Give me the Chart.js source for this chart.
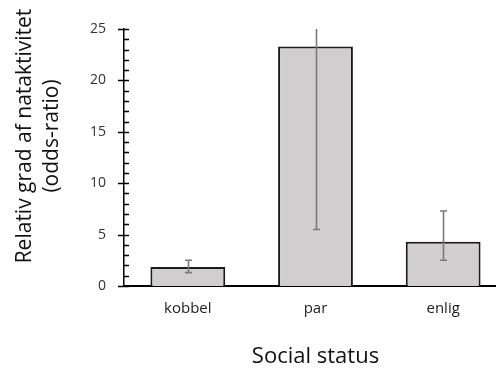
<!DOCTYPE html>
<html lang="da">
<head>
  <meta charset="UTF-8" />
  <title>Social status</title>
  <script src="https://cdn.jsdelivr.net/npm/chart.js"></script>
  <style>
    html, body { margin: 0; padding: 0; background: #fff; overflow: hidden; }
    #wrap { width: 508px; height: 369px; }
  </style>
</head>
<body>
  <div id="wrap"><canvas id="grafik" width="508" height="369"></canvas></div>

  <script>
    // Data
    const kategorier = ['kobbel', 'par', 'enlig'];
    const oddsRatio = [1.85, 23.3, 4.3];
    const nedre = [1.3, 5.5, 2.5];
    const oevre = [2.5, 25.0, 7.3];
    const yTicks = [0, 5, 10, 15, 20, 25];
    const yTitel = ['Relativ grad af nataktivitet', '(odds-ratio)'];

    // fejllinjer tegnet via skalaerne
    const fejlLinjer = {
      id: 'fejlLinjer',
      afterDatasetsDraw(chart) {
        const ctx = chart.ctx;
        const y = chart.scales.y;
        const meta = chart.getDatasetMeta(0);
        ctx.save();
        ctx.strokeStyle = '#7a7a7a';
        ctx.lineWidth = 1.6;
        meta.data.forEach((bar, i) => {
          const x = Math.round(bar.x) + 0.5;
          const yLo = y.getPixelForValue(nedre[i]);
          const yHi = y.getPixelForValue(oevre[i]);
          ctx.beginPath();
          ctx.moveTo(x, yLo);
          ctx.lineTo(x, yHi);
          ctx.moveTo(x - 3.5, yLo);
          ctx.lineTo(x + 3.5, yLo);
          if (oevre[i] < y.max) {
            ctx.moveTo(x - 3.5, yHi);
            ctx.lineTo(x + 3.5, yHi);
          }
          ctx.stroke();
        });
        ctx.restore();
      }
    };

    // flueben på y-aksen (store krydser aksen, små kun indad) + y-titel
    const aksemaerker = {
      id: 'aksemaerker',
      afterDraw(chart) {
        const ctx = chart.ctx;
        const y = chart.scales.y;
        const x0 = chart.chartArea.left;
        ctx.save();
        ctx.strokeStyle = '#000';
        ctx.lineWidth = 1.3;
        ctx.beginPath();
        for (let v = 0; v <= 25; v++) {
          const py = Math.round(y.getPixelForValue(v)) + 0.5;
          if (v % 5 === 0) {
            ctx.moveTo(x0 - 6, py);
            ctx.lineTo(x0 + 5, py);
          } else {
            ctx.moveTo(x0, py);
            ctx.lineTo(x0 + 5, py);
          }
        }
        ctx.stroke();

        // titel, lidt over midten af aksen som i originalen
        ctx.fillStyle = '#111';
        ctx.font = '21px "Open Sans"';
        ctx.textAlign = 'center';
        ctx.textBaseline = 'middle';
        ctx.translate(0, 136);
        ctx.rotate(-Math.PI / 2);
        ctx.fillText(yTitel[0], 0, 25);
        ctx.fillText(yTitel[1], 0, 52);
        ctx.restore();
      }
    };

    new Chart(document.getElementById('grafik'), {
      type: 'bar',
      data: {
        labels: kategorier,
        datasets: [{
          data: oddsRatio,
          backgroundColor: '#d0cecf',
          borderColor: '#1a1a1a',
          borderWidth: 2,
          barPercentage: 0.586,
          categoryPercentage: 1.0
        }]
      },
      options: {
        responsive: false,
        animation: false,
        layout: { padding: { top: 29, right: 1, left: 0, bottom: 0 } },
        plugins: { legend: { display: false }, tooltip: { enabled: false } },
        scales: {
          x: {
            grid: { display: false },
            border: { color: '#000', width: 2 },
            ticks: { color: '#222', font: { family: 'Open Sans', size: 15 }, padding: 6 },
            title: {
              display: true,
              text: 'Social status',
              color: '#111',
              font: { family: 'Open Sans', size: 22, lineHeight: 1.1 },
              padding: { top: 0, bottom: 0 }
            },
            afterFit(scale) { scale.height = 83; }
          },
          y: {
            min: 0,
            max: 25,
            afterBuildTicks(scale) { scale.ticks = yTicks.map(v => ({ value: v })); },
            grid: { display: false },
            border: { color: '#000', width: 1.5 },
            ticks: { color: '#333', font: { family: 'Open Sans', size: 14 }, padding: 10 },
            afterFit(scale) { scale.width = 124; }
          }
        }
      },
      plugins: [fejlLinjer, aksemaerker]
    });
  </script>
</body>
</html>
